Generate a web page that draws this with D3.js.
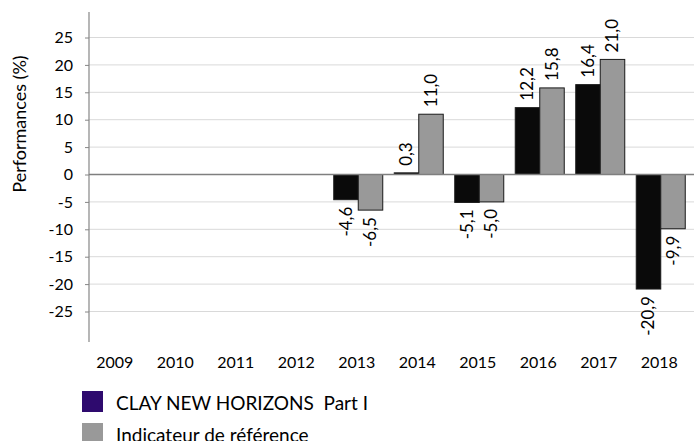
<!DOCTYPE html>
<html>
<head>
<meta charset="utf-8">
<script src="https://cdn.jsdelivr.net/npm/d3@7"></script>
<style>
  body { margin: 0; background: #fff; }
  svg { display: block; font-family: Lato, "Open Sans", sans-serif; }
</style>
</head>
<body>
<div id="chart"></div>
<script>
// Data
const years = ["2009", "2010", "2011", "2012", "2013", "2014", "2015", "2016", "2017", "2018"];
const fund = [null, null, null, null, -4.6, 0.3, -5.1, 12.2, 16.4, -20.9];
const benchmark = [null, null, null, null, -6.5, 11.0, -5.0, 15.8, 21.0, -9.9];
const seriesNames = ["CLAY NEW HORIZONS  Part I", "Indicateur de référence"];
const yTicks = [25, 20, 15, 10, 5, 0, -5, -10, -15, -20, -25];

const width = 694, height = 441;
const axisX = 89;

const svg = d3.select("#chart").append("svg")
  .attr("width", width)
  .attr("height", height);

const x = d3.scaleBand()
  .domain(years)
  .range([86, 691])
  .paddingInner(0.19)
  .paddingOuter(0.095);

const inner = d3.scaleBand()
  .domain([0, 1])
  .range([0, x.bandwidth()]);

const y = d3.scaleLinear()
  .domain([-30, 30])
  .range([338.9, 10.1]);

// gridlines
svg.append("g")
  .selectAll("line")
  .data(yTicks.filter(d => d !== 0))
  .enter().append("line")
  .attr("x1", axisX)
  .attr("x2", width)
  .attr("y1", d => y(d))
  .attr("y2", d => y(d))
  .attr("stroke", "#d9d9d9")
  .attr("stroke-width", 1);

// y axis
const yAxis = d3.axisLeft(y)
  .tickValues(yTicks)
  .tickSize(4)
  .tickPadding(12)
  .tickFormat(d => d);

const gy = svg.append("g")
  .attr("transform", "translate(" + axisX + ",0)")
  .call(yAxis);
gy.select(".domain").remove();
gy.selectAll(".tick line").attr("stroke", "#868686");
gy.selectAll("text")
  .attr("font-size", 16)
  .attr("fill", "#000")
  .attr("font-family", "Lato");

svg.append("line")
  .attr("x1", axisX).attr("x2", axisX)
  .attr("y1", 12).attr("y2", 342)
  .attr("stroke", "#868686")
  .attr("stroke-width", 1.2);

// bars
const seriesList = [fund, benchmark];
const fills = ["#0a0a0a", "#999999"];

seriesList.forEach(function (vals, s) {
  const rows = years.map((yr, i) => ({ year: yr, v: vals[i] })).filter(d => d.v !== null);
  const g = svg.append("g");
  g.selectAll("rect")
    .data(rows).enter()
    .append("rect")
    .attr("x", d => x(d.year) + inner(s))
    .attr("width", inner.bandwidth())
    .attr("y", d => y(Math.max(0, d.v)))
    .attr("height", d => Math.abs(y(d.v) - y(0)))
    .attr("fill", fills[s])
    .attr("stroke", "#1a1a1a")
    .attr("stroke-width", 1);

  g.selectAll("text")
    .data(rows).enter()
    .append("text")
    .attr("transform", function (d) {
      const cx = x(d.year) + inner(s) + inner.bandwidth() / 2;
      const cy = d.v >= 0 ? y(d.v) - 7 : y(d.v) + 7;
      return "translate(" + cx + "," + cy + ") rotate(-90)";
    })
    .attr("dy", "0.35em")
    .attr("text-anchor", d => d.v >= 0 ? "start" : "end")
    .attr("font-size", 17)
    .attr("fill", "#000")
    .text(d => d3.format(".1f")(d.v).replace(".", ",").replace("−", "-"));
});

// zero line
svg.append("line")
  .attr("x1", axisX).attr("x2", width)
  .attr("y1", y(0)).attr("y2", y(0))
  .attr("stroke", "#7f7f7f")
  .attr("stroke-width", 1.5);

// x labels
svg.append("g")
  .selectAll("text")
  .data(years).enter()
  .append("text")
  .attr("x", d => x(d) + x.bandwidth() / 2 - 1.5)
  .attr("y", 368)
  .attr("text-anchor", "middle")
  .attr("font-size", 16)
  .attr("fill", "#000")
  .text(d => d);

// y title
svg.append("text")
  .attr("transform", "translate(26,124) rotate(-90)")
  .attr("text-anchor", "middle")
  .attr("font-size", 18)
  .attr("fill", "#000")
  .text("Performances (%)");

// legend
const legendColors = ["#2e0a6e", "#999999"];
const legend = svg.append("g");
seriesNames.forEach(function (name, i) {
  legend.append("rect")
    .attr("x", 82)
    .attr("y", 391 + i * 32)
    .attr("width", 21)
    .attr("height", 21)
    .attr("fill", legendColors[i]);
  legend.append("text")
    .attr("x", 116)
    .attr("y", 410 + i * 32)
    .attr("font-size", 19)
    .attr("fill", "#000")
    .style("white-space", "pre")
    .text(name);
});
</script>
</body>
</html>
